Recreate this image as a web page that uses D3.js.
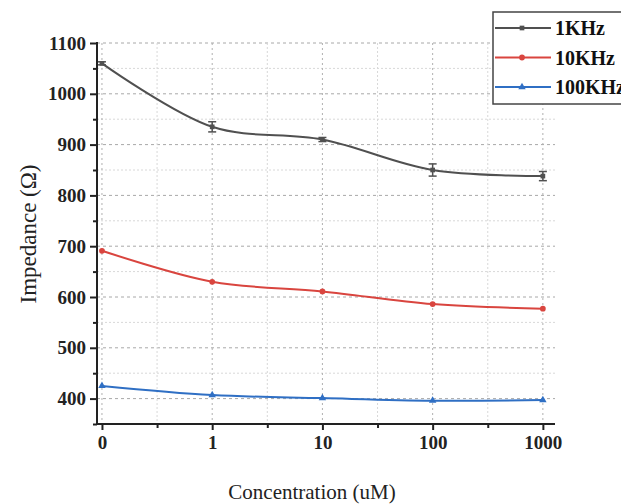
<!DOCTYPE html>
<html>
<head>
<meta charset="utf-8">
<script src="https://cdn.jsdelivr.net/npm/d3@7/dist/d3.min.js"></script>
<style>
  html, body { margin: 0; padding: 0; background: #fff; }
  svg { display: block; }
</style>
</head>
<body>
<script>
// Concentration categories (evenly spaced on the x axis)
const categories = ["0", "1", "10", "100", "1000"];
// Impedance (Ω) per frequency
const series1k = [1060, 935, 910, 850, 838];
const error1k = [3, 10, 4, 12, 9];
const series10k = [691, 630, 611, 586, 577];
const series100k = [425, 407, 401, 396, 397];
const seriesNames = ["1KHz", "10KHz", "100KHz"];
const yTicks = [400, 500, 600, 700, 800, 900, 1000, 1100];

const W = 621, H = 504;
const serif = "'Liberation Serif', 'DejaVu Serif', serif";

const svg = d3.select("body").append("svg").attr("width", W).attr("height", H);

const x = d3.scaleLinear().domain([-0.045, 4.11]).range([97, 555]);
const y = d3.scaleLinear().domain([350, 1100]).range([424, 43]);

// grid
const grid = svg.append("g");
const minorY = d3.range(350, 1101, 50).filter(v => v % 100 !== 0);
grid.selectAll(".gym").data(minorY).enter().append("line")
  .attr("x1", 97).attr("x2", 555).attr("y1", d => y(d)).attr("y2", d => y(d))
  .attr("stroke", "#d8d8d8").attr("stroke-width", 1).attr("stroke-dasharray", "2,2");
grid.selectAll(".gy").data(yTicks).enter().append("line")
  .attr("x1", 97).attr("x2", 555).attr("y1", d => y(d)).attr("y2", d => y(d))
  .attr("stroke", "#a8a8a8").attr("stroke-width", 1).attr("stroke-dasharray", "3,3");
const midX = [0.5, 1.5, 2.5, 3.5];
grid.selectAll(".gxm").data(midX).enter().append("line")
  .attr("y1", 43).attr("y2", 424).attr("x1", d => x(d)).attr("x2", d => x(d))
  .attr("stroke", "#d8d8d8").attr("stroke-width", 1).attr("stroke-dasharray", "2,2");
grid.selectAll(".gx").data(categories).enter().append("line")
  .attr("y1", 43).attr("y2", 424).attr("x1", (d, i) => x(i)).attr("x2", (d, i) => x(i))
  .attr("stroke", "#b0b0b0").attr("stroke-width", 1).attr("stroke-dasharray", "2,3");

// axes
const yAxis = d3.axisLeft(y).tickValues(yTicks).tickFormat(d3.format("d")).tickSize(7).tickPadding(4);
const yMinor = d3.axisLeft(y).tickValues(minorY).tickSize(4).tickFormat("");
const xAxis = d3.axisBottom(x).tickValues(d3.range(categories.length))
  .tickFormat(i => categories[i]).tickSize(6).tickPadding(6);
const xMinor = d3.axisBottom(x).tickValues(midX).tickSize(4).tickFormat("");

function styleAxis(g) {
  g.select(".domain").remove();
  g.selectAll(".tick line").attr("stroke", "#222").attr("stroke-width", 2);
  g.selectAll("text").attr("font-family", serif).attr("font-weight", "bold")
    .attr("font-size", 19).attr("fill", "#222");
}
svg.append("g").attr("transform", "translate(97,0)").call(yAxis).call(styleAxis);
svg.append("g").attr("transform", "translate(97,0)").call(yMinor).call(styleAxis);
svg.append("g").attr("transform", "translate(0,424)").call(xAxis).call(styleAxis);
svg.append("g").attr("transform", "translate(0,424)").call(xMinor).call(styleAxis);

svg.append("line").attr("x1", 97).attr("x2", 97).attr("y1", 42).attr("y2", 425)
  .attr("stroke", "#222").attr("stroke-width", 2);
svg.append("line").attr("x1", 96).attr("x2", 555).attr("y1", 424).attr("y2", 424)
  .attr("stroke", "#222").attr("stroke-width", 2);

// series
const colors = ["#505050", "#d9453f", "#2f6fc4"];
const data = [series1k, series10k, series100k];
const line = d3.line().x((d, i) => x(i)).y(d => y(d)).curve(d3.curveCatmullRom.alpha(0.5));

data.forEach((s, k) => {
  svg.append("path").datum(s).attr("d", line).attr("fill", "none")
    .attr("stroke", colors[k]).attr("stroke-width", 2);
});

// error bars for 1KHz
const eb = svg.append("g").attr("stroke", colors[0]).attr("stroke-width", 1.5);
series1k.forEach((v, i) => {
  const e = error1k[i];
  eb.append("line").attr("x1", x(i)).attr("x2", x(i)).attr("y1", y(v + e)).attr("y2", y(v - e));
  eb.append("line").attr("x1", x(i) - 4).attr("x2", x(i) + 4).attr("y1", y(v + e)).attr("y2", y(v + e));
  eb.append("line").attr("x1", x(i) - 4).attr("x2", x(i) + 4).attr("y1", y(v - e)).attr("y2", y(v - e));
});

const symbols = [d3.symbolSquare, d3.symbolCircle, d3.symbolTriangle];
const sizes = [22, 26, 24];
data.forEach((s, k) => {
  svg.append("g").selectAll("path").data(s).enter().append("path")
    .attr("d", d3.symbol().type(symbols[k]).size(sizes[k]))
    .attr("transform", (d, i) => `translate(${x(i)},${y(d)})`)
    .attr("fill", colors[k]);
});

// legend
const lg = svg.append("g");
lg.append("rect").attr("x", 493).attr("y", 12).attr("width", 200).attr("height", 92)
  .attr("fill", "#fff").attr("stroke", "#444").attr("stroke-width", 1.5);
seriesNames.forEach((n, k) => {
  const ly = 28 + k * 29.5;
  lg.append("line").attr("x1", 495).attr("x2", 551).attr("y1", ly).attr("y2", ly)
    .attr("stroke", colors[k]).attr("stroke-width", 2);
  lg.append("path").attr("d", d3.symbol().type(symbols[k]).size(sizes[k]))
    .attr("transform", `translate(522,${ly})`).attr("fill", colors[k]);
  lg.append("text").attr("x", 555).attr("y", ly + 7).text(n)
    .attr("font-family", serif).attr("font-weight", "bold").attr("font-size", 20).attr("fill", "#111");
});

// axis titles
svg.append("text").attr("transform", "translate(36,234) rotate(-90)")
  .attr("text-anchor", "middle").attr("font-family", serif).attr("font-size", 23)
  .attr("fill", "#222").text("Impedance (Ω)");
svg.append("text").attr("x", 312).attr("y", 499)
  .attr("text-anchor", "middle").attr("font-family", serif).attr("font-size", 21)
  .attr("fill", "#222").text("Concentration (uM)");
</script>
</body>
</html>
